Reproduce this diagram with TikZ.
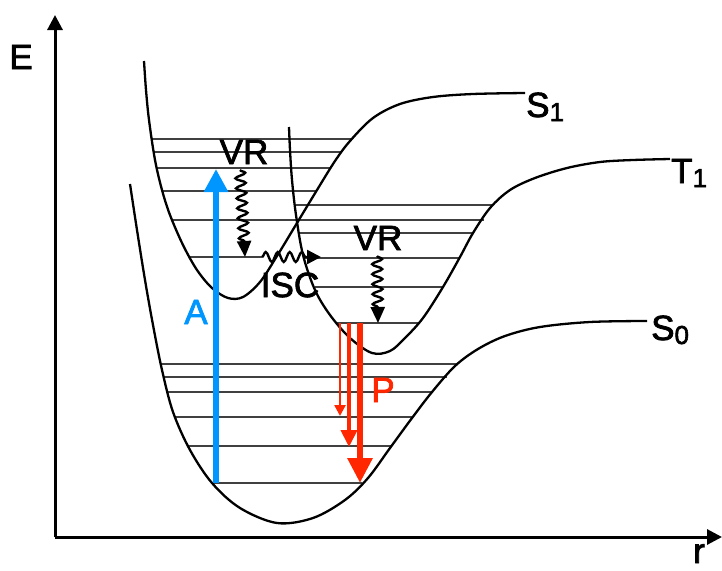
\documentclass[tikz,border=0pt]{standalone}
\usepackage{fontspec}
\setmainfont{Liberation Sans}[FakeBold=2.2]
\usetikzlibrary{arrows.meta,decorations.pathmorphing}
\definecolor{absblue}{RGB}{0,150,255}
\definecolor{emred}{RGB}{255,38,0}
\newcommand{\subsc}[1]{\raisebox{-4pt}{\fontsize{26}{26}\selectfont #1}}
\begin{document}
\begin{tikzpicture}[x=1pt,y=-1pt,
 curve/.style={line width=2.3pt, line join=round},
 level/.style={line width=1.3pt, black!75},
 axis/.style={line width=3pt, -{Triangle[length=15pt,width=15pt]}},
 lbl/.style={font=\fontsize{35}{40}\selectfont, inner sep=0pt},
 wavy/.style={line width=2.4pt, decorate, decoration={snake, amplitude=5pt, segment length=10pt, post length=15pt}, -{Triangle[length=16pt,width=14pt]}},
 wavyh/.style={line width=2.4pt, decorate, decoration={snake, amplitude=5pt, segment length=12pt, post length=13pt}, -{Triangle[length=14pt,width=14pt]}},
]
\useasboundingbox (0,0) rectangle (722,570);

% axes
\coordinate (origin) at (55,537);
\coordinate (ytop) at (55,15);
\coordinate (xend) at (722,537);
\draw[axis] (origin) -- (ytop);
\draw[axis] (origin) -- (xend);

% S0 levels
\draw[level] (161,364) -- (458,364);
\draw[level] (164,377) -- (447,377);
\draw[level] (168,392) -- (432,392);
\draw[level] (175,417) -- (412,417);
\draw[level] (189,446) -- (391,446);
\draw[level] (212,483) -- (362,483);

% S1 levels
\draw[level] (151,139) -- (351,139);
\draw[level] (153,152) -- (341,152);
\draw[level] (157,168) -- (331,168);
\draw[level] (162,191) -- (316,191);
\draw[level] (172,220) -- (299,220);
\draw[level] (189,257) -- (262,257);

% T1 levels
\draw[level] (296,205) -- (493,205);
\draw[level] (295,220) -- (484,220);
\draw[level] (299,233) -- (473,233);
\draw[level] (305,258) -- (459,258);
\draw[level] (315,287) -- (443,287);
\draw[level] (337,323) -- (419,323);

% potential curves
\draw[curve] plot[smooth, tension=0.55] coordinates {(130,184) (137,230) (145,280) (153,325) (162,370) (173,412) (190,450) (212,483) (240,508) (277,523) (313,518) (345,500) (368,478) (390,448) (412,418) (432,392) (455,366) (478,349) (505,336) (540,327) (590,322) (647,321)};
\draw[curve] plot[smooth, tension=0.55] coordinates {(144,61) (146,90) (149,120) (155,160) (162,190) (170,215) (183,245) (197,270) (212,288) (228,298) (243,297) (260,282) (277,256) (297,223) (317,190) (335,161) (350,141) (373,118) (400,104) (433,97) (473,94) (525,93)};
\draw[curve] plot[smooth, tension=0.55] coordinates {(289,127) (290,150) (292,180) (296,215) (303,255) (315,290) (330,315) (350,338) (372,353) (390,351) (405,338) (423,318) (443,287) (460,257) (473,233) (490,208) (510,190) (535,178) (567,168) (600,162) (633,160) (670,159)};

% absorption
\coordinate (abot) at (216,483);
\coordinate (atop) at (216,169);
\draw[absblue, line width=6pt, -{Triangle[length=23pt,width=23pt]}] (abot) -- (atop);

% phosphorescence
\coordinate (p1t) at (340,323); \coordinate (p1b) at (340,416);
\coordinate (p2t) at (349,323); \coordinate (p2b) at (349,447);
\coordinate (p3t) at (360,323); \coordinate (p3b) at (360,483);
\draw[emred, line width=2.5pt, -{Triangle[length=11pt,width=11pt]}] (p1t) -- (p1b);
\draw[emred, line width=4pt, -{Triangle[length=17pt,width=16pt]}] (p2t) -- (p2b);
\draw[emred, line width=6pt, -{Triangle[length=25pt,width=24pt]}] (p3t) -- (p3b);

% wavy arrows
\coordinate (vr1s) at (240,170); \coordinate (vr1e) at (245,257);
\coordinate (vr2s) at (377,256); \coordinate (vr2e) at (378,323);
\coordinate (iscs) at (262,257); \coordinate (isce) at (321,257);
\draw[wavy] (vr1s) -- (vr1e);
\draw[wavy] (vr2s) -- (vr2e);
\draw[wavyh] (iscs) -- (isce);

% labels
\node[lbl] (elbl) at (21,57) {E};
\node[lbl, anchor=base] (rlbl) at (699,563) {r};
\node[lbl, anchor=base west] (s1lbl) at (526,117) {S\subsc{1}};
\node[lbl, anchor=base west] (t1lbl) at (671,183) {T\subsc{1}};
\node[lbl, anchor=base west] (s0lbl) at (651,340) {S\subsc{0}};
\node[lbl] (vr1) at (244,152) {VR};
\node[lbl] (vr2) at (378,238) {VR};
\node[lbl] (isc) at (290,285) {ISC};
\node[lbl, text=absblue] (albl) at (196,312) {A};
\node[lbl, text=emred] (plbl) at (383,390) {P};
\end{tikzpicture}
\end{document}
